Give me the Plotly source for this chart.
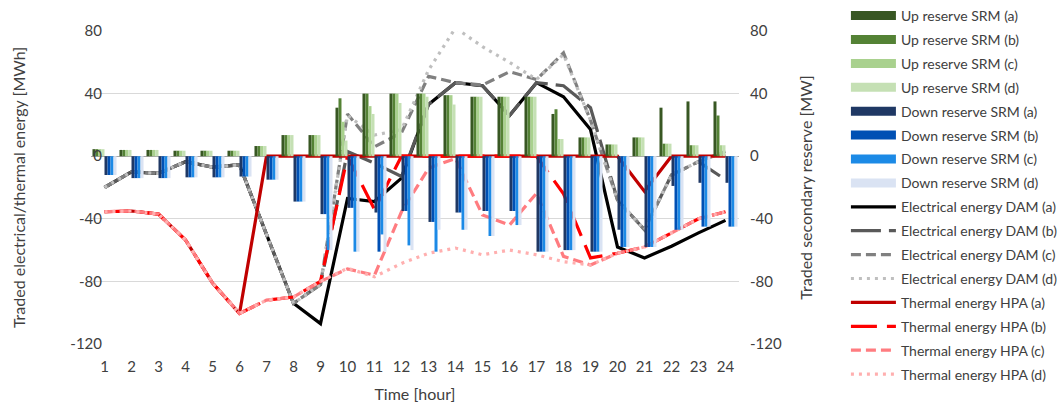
import plotly.graph_objects as go

# Hours of the day (category axis)
hours = [str(h) for h in range(1, 25)]

# Traded secondary reserve [MW] - upward (positive) and downward (negative)
up_a = [4.5, 4, 4, 3.5, 3.5, 3.5, 6.5, 13.5, 13.5, 31, 40, 40, 40, 39, 38, 38, 38, 27, 12, 7.5, 12, 31, 35, 35]
up_b = [4.5, 4, 4, 3.5, 3.5, 3.5, 6.5, 13.5, 13.5, 37, 40, 40, 40, 39, 38, 38, 38, 30, 12, 7.5, 12, 8, 7, 26]
up_c = [4.5, 4, 4, 3.5, 3.5, 3.5, 6.5, 13.5, 13.5, 22, 32, 40, 40, 39, 38, 38, 38, 11, 12, 7.5, 12, 8, 7, 7]
up_d = [4.5, 4, 4, 3.5, 3.5, 3.5, 6.5, 13.5, 13.5, 10, 27, 34, 38, 33, 38, 38, 38, 11, 12, 7.5, 12, 8, 7, 7]

down_a = [-12, -14, -14, -13.5, -13.5, -13, -15, -29, -37, -33, -36, -35, -42, -36, -35, -35, -61, -60, -61, -47, -58, -19, -17, -17]
down_b = [-12, -14, -14, -13.5, -13.5, -13, -15, -29, -37, -33, -61, -35, -42, -36, -35, -35, -61, -60, -61, -58, -58, -47, -45, -45]
down_c = [-12, -14, -14, -13.5, -13.5, -13, -15, -29, -60, -61, -50, -57, -61, -47, -51, -44, -61, -60, -61, -58, -58, -47, -45, -45]
down_d = [-12, -14, -14, -13.5, -13.5, -13, -15, -29, -60, -61, -61, -60, -47, -47, -51, -44, -61, -60, -61, -58, -58, -47, -45, -45]

# Traded electrical energy in the day-ahead market [MWh]
dam_a = [-20, -10, -11, -3.5, -7, -5.5, -50, -94, -107, -27, -29, -14, 33, 47, 45, 26, 47, 38, 17, -58, -65, -57.5, -49, -41]
dam_b = [-20, -10, -11, -3.5, -7, -5.5, -50, -94, -82, 3, -4.5, -13, 33, 47, 45, 26, 47, 45, 31, -28, -47, -12, -3.5, -15]
dam_c = [-20, -10, -11, -3.5, -7, -5.5, -50, -94, -82, 27, 6, 15, 51, 47, 45.5, 54, 49, 66, 23, -28, -47, -12, -3.5, 3]
dam_d = [-20, -10, -11, -3.5, -7, -5.5, -50, -94, -82, 26, 13.5, 17, 55, 82, 70, 60, 49, 65, 23, -28, -47, -12, -3.5, 3]

# Traded thermal energy in the heat pool [MWh]
hpa_a = [-35.5, -35, -37, -53.5, -81, -100.5, 0, 0, 0, 0, 0, 0, 0, 0, 0, 0, 0, 0, 0, 0, -22.5, 0, 0, 0]
hpa_b = [-35.5, -35, -37, -53.5, -81, -100.5, -92, -90, -80, 0, -34, 0, 0, 0, 0, 0, 0, -24, -65, -62, -58, -49, -40, -35.5]
hpa_c = [-35.5, -35, -37, -53.5, -81, -100.5, -92, -90, -80, -72, -76, -35.5, -7.7, -1.4, -37.6, -44, -23.7, -64, -69.5, -62, -58, -49, -40, -35.5]
hpa_d = [-35.5, -35, -37, -53.5, -81, -100.5, -92, -90, -80, -71.6, -77, -68.5, -62, -58.7, -63, -60, -63, -67.4, -69.5, -62, -58, -49, -40, -35.5]

# Value-axis ticks (shared by both y axes)
y_ticks = [-120, -80, -40, 0, 40, 80]
y_tick_labels = ["-120", "-80", "-40", "0", "40", "80"]

FONT = "Lato"
TXT = "#404040"

bar_series = [
    ("Up reserve SRM (a)", up_a, "#385723"),
    ("Up reserve SRM (b)", up_b, "#548235"),
    ("Up reserve SRM (c)", up_c, "#A9D18E"),
    ("Up reserve SRM (d)", up_d, "#C5E0B4"),
    ("Down reserve SRM (a)", down_a, "#1F3864"),
    ("Down reserve SRM (b)", down_b, "#0050B4"),
    ("Down reserve SRM (c)", down_c, "#1C8AE6"),
    ("Down reserve SRM (d)", down_d, "#DAE3F3"),
]

line_series = [
    ("Electrical energy DAM (a)", dam_a, "#000000", "solid"),
    ("Electrical energy DAM (b)", dam_b, "#595959", "30px,8px"),
    ("Electrical energy DAM (c)", dam_c, "#808080", "10px,5px"),
    ("Electrical energy DAM (d)", dam_d, "#BFBFBF", "3px,5px"),
    ("Thermal energy HPA (a)", hpa_a, "#C00000", "solid"),
    ("Thermal energy HPA (b)", hpa_b, "#FF0000", "26px,10px"),
    ("Thermal energy HPA (c)", hpa_c, "#FF7C80", "10px,5px"),
    ("Thermal energy HPA (d)", hpa_d, "#FFAFAF", "3px,5px"),
]

fig = go.Figure()

# wide colour swatches for the bar series in the legend
for i, (name, vals, col) in enumerate(bar_series):
    fig.add_trace(go.Scatter(
        x=[None], y=[None], mode="lines", name=name,
        line=dict(color=col, width=9), legendgroup=f"g{i}",
        hoverinfo="skip",
    ))

for name, vals, col in bar_series:
    fig.add_trace(go.Bar(
        x=hours, y=vals, name=name, marker=dict(color=col, line=dict(width=0)),
        yaxis="y2", showlegend=False,
    ))

for j, (name, vals, col, dash) in enumerate(line_series):
    fig.add_trace(go.Scatter(
        x=hours, y=vals, name=name, mode="lines",
        line=dict(color=col, width=3.2, dash=dash),
        legendgroup=f"l{j}",
    ))

axis_font = dict(family=FONT, size=15, color=TXT)
title_font = dict(family=FONT, size=16, color=TXT)

fig.update_layout(
    width=1060, height=405,
    margin=dict(l=91, r=321, t=31, b=61, autoexpand=False),
    paper_bgcolor="white", plot_bgcolor="white",
    barmode="group", bargap=0.11, bargroupgap=0,
    font=dict(family=FONT, color=TXT),
    showlegend=True,
    legend=dict(
        x=1.165, xanchor="left", y=1.0, yanchor="top", yref="container",
        maxheight=1.0,
        font=dict(family=FONT, size=14, color=TXT),
        itemwidth=45, tracegroupgap=2.7, traceorder="grouped",
        bgcolor="rgba(0,0,0,0)",
    ),
    xaxis=dict(
        type="category", tickfont=axis_font, showgrid=False,
        showline=False, ticks="", ticklabelstandoff=12,
        title=dict(text="Time [hour]", font=title_font, standoff=14),
    ),
    yaxis=dict(
        range=[-120, 80], tickvals=y_ticks, ticktext=y_tick_labels,
        tickfont=axis_font,
        showgrid=True, gridcolor="#D9D9D9", gridwidth=1,
        zeroline=True, zerolinecolor="#A6A6A6", zerolinewidth=1,
        showline=False, ticks="", ticklabelstandoff=-12,
        title=dict(text="Traded electrical/thermal energy [MWh]",
                   font=title_font, standoff=40),
    ),
    yaxis2=dict(
        range=[-120, 80], tickvals=y_ticks, ticktext=y_tick_labels,
        tickfont=axis_font,
        overlaying="y", side="right", showgrid=False, zeroline=False,
        showline=False, ticks="", ticklabelstandoff=10,
        title=dict(text="Traded secondary reserve [MW]",
                   font=title_font, standoff=19),
    ),
)

fig.write_html("out.html")
